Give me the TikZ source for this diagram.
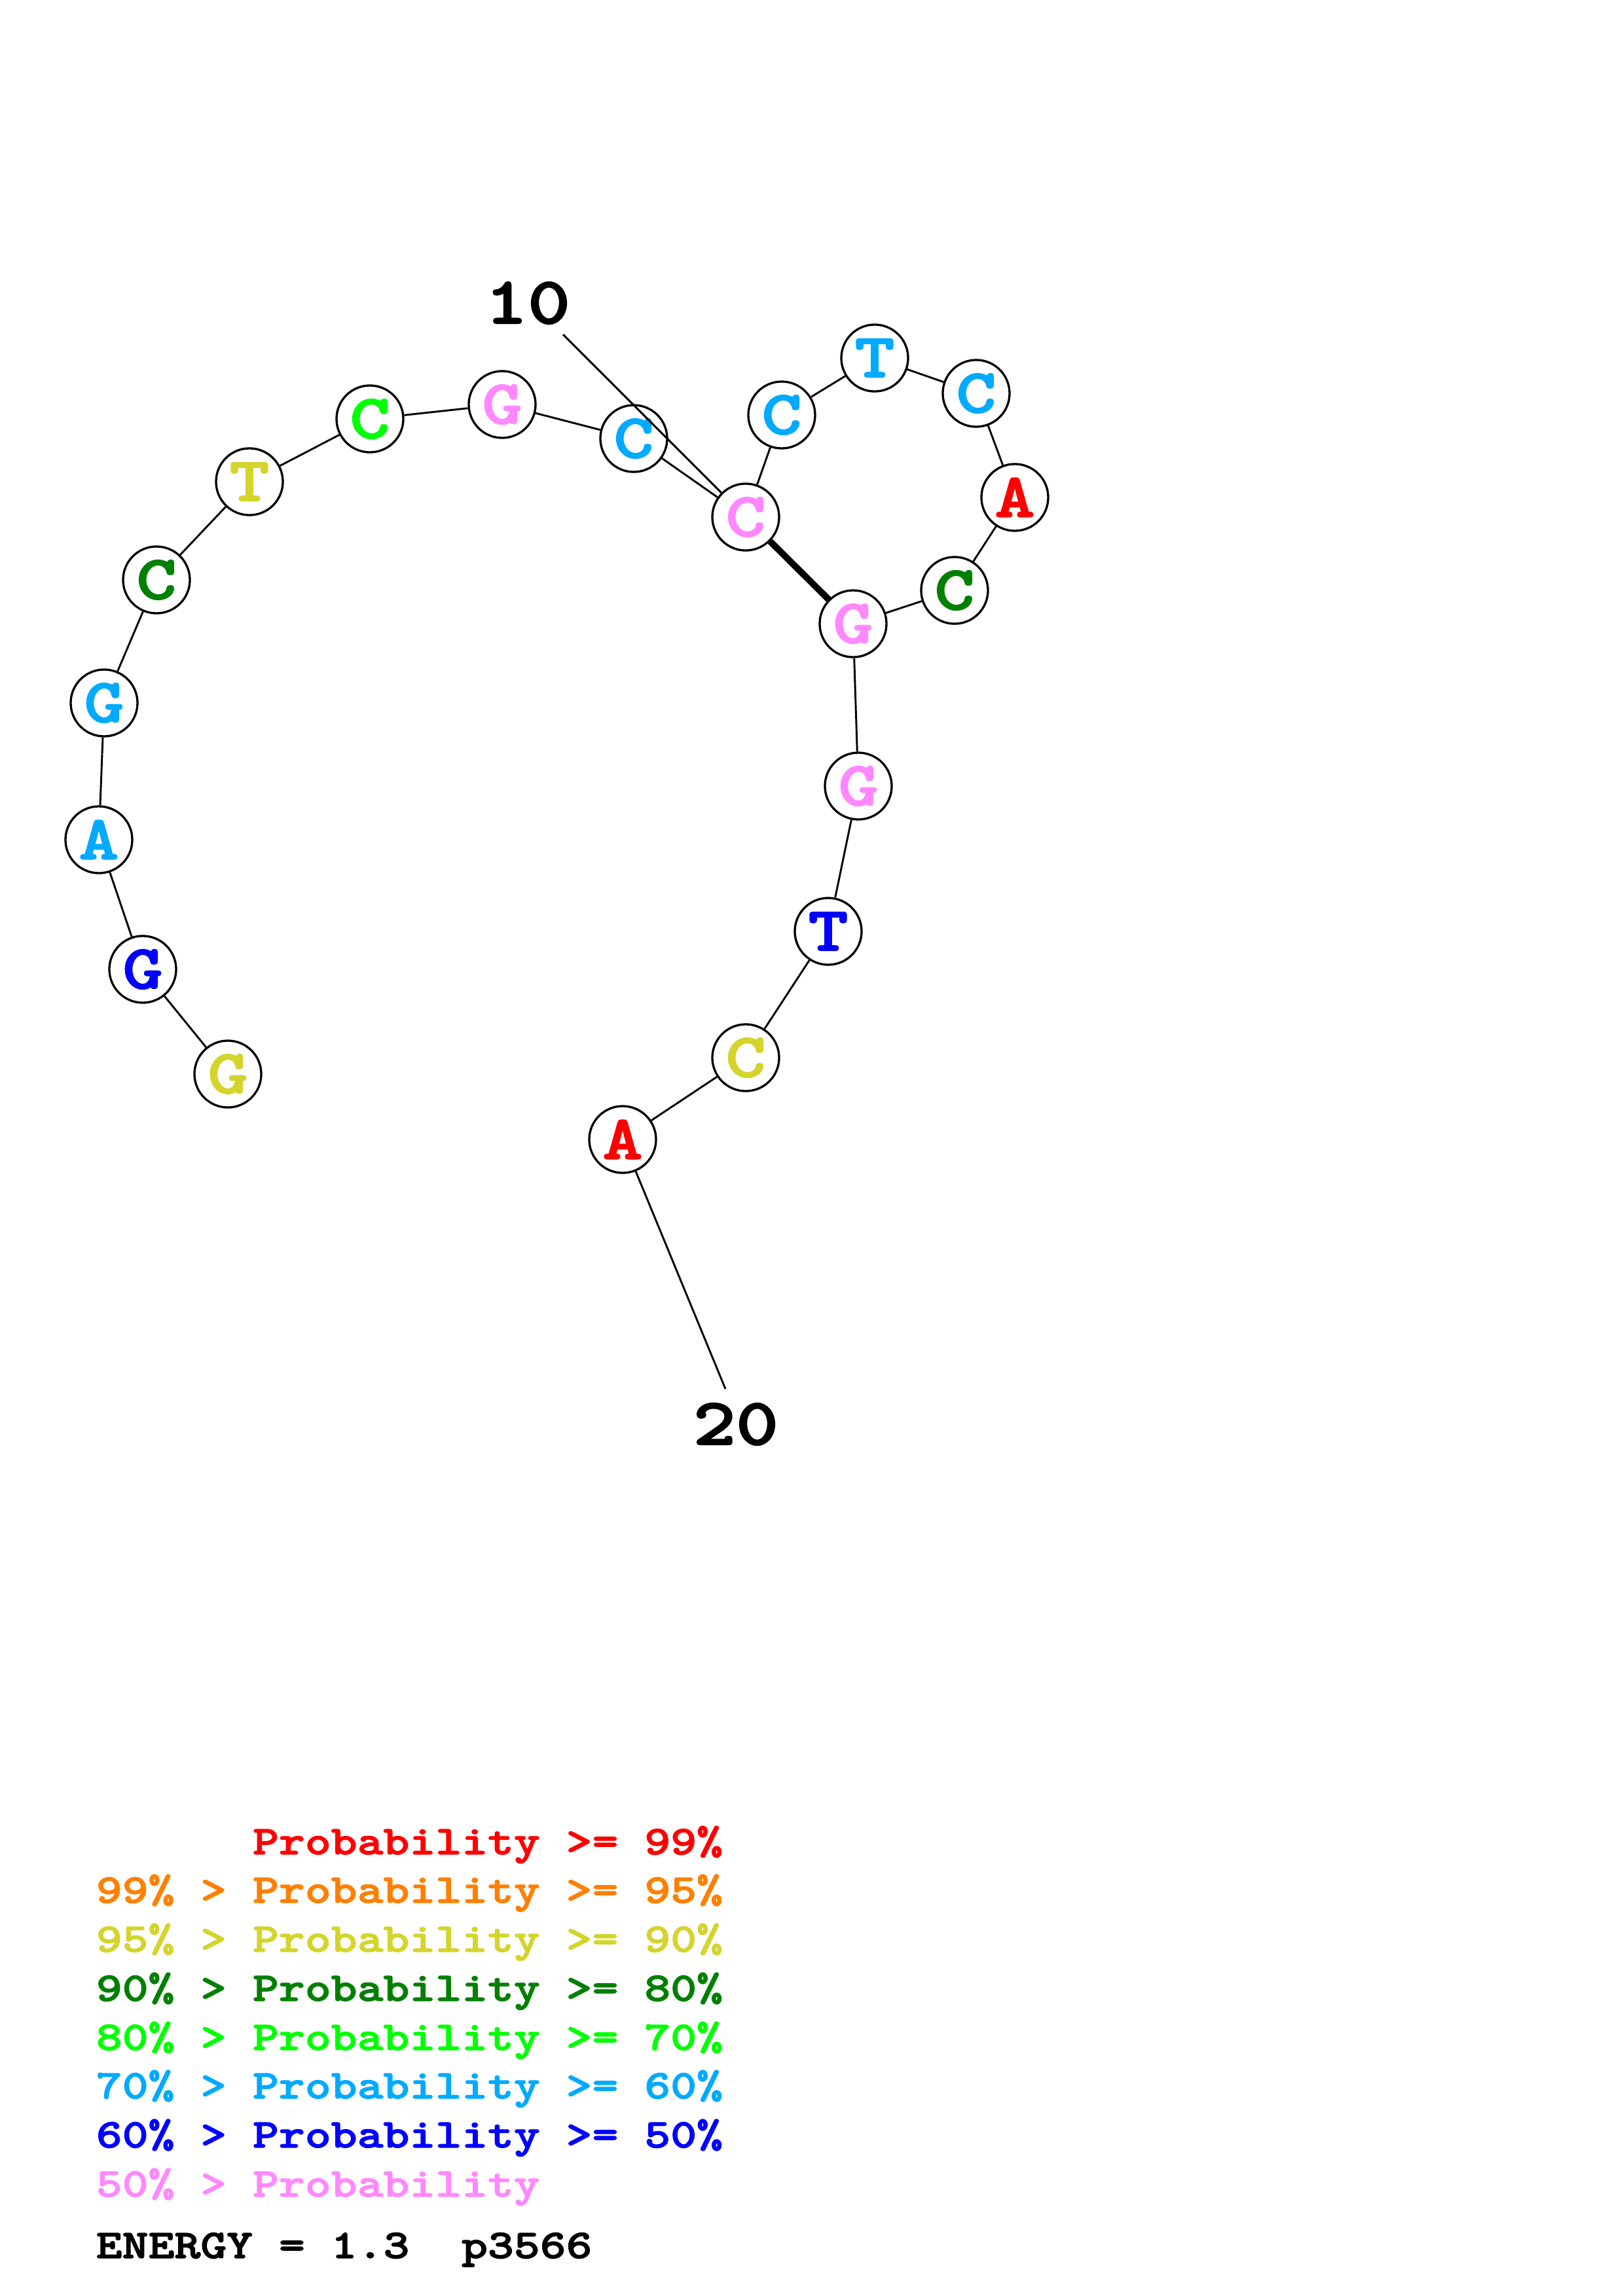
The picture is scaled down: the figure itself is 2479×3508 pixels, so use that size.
\documentclass[tikz,border=0pt]{standalone}
\usepackage{fontspec}
\usepackage{tikz}
\newfontfamily\courbold{lmmonolt10-bold.otf}[FakeStretch=1.22, FakeBold=2]
\definecolor{pr99}{HTML}{FF0000}
\definecolor{pr95}{HTML}{FF8000}
\definecolor{pr90}{HTML}{D4D42C}
\definecolor{pr80}{HTML}{008000}
\definecolor{pr70}{HTML}{00FF00}
\definecolor{pr60}{HTML}{00AAFF}
\definecolor{pr50}{HTML}{0000FF}
\definecolor{prlow}{HTML}{FF88FF}

\begin{document}
\begin{tikzpicture}
[x=0.0846667mm, y=-0.0846667mm,
base/.style={circle, draw, line width=0.8pt, fill=white, minimum size=8.64mm, inner sep=0pt, font=\fontsize{23}{23}\courbold},
ge99/.style={base, text=pr99},
ge90/.style={base, text=pr90},
ge80/.style={base, text=pr80},
ge70/.style={base, text=pr70},
ge60/.style={base, text=pr60},
ge50/.style={base, text=pr50},
lt50/.style={base, text=prlow},
backbone/.style={line width=0.7pt},
pair/.style={line width=2.4pt},
numlabel/.style={inner sep=0pt, font=\fontsize{24.5}{24.5}\courbold},
legend/.style={anchor=base west, inner sep=0pt, font=\fontsize{15}{15}\courbold}]
\useasboundingbox (0,0) rectangle (2479,3508);
\node[ge90] (n1) at (348,1641) {G};
\node[ge50] (n2) at (218,1481) {G};
\node[ge60] (n3) at (151,1283) {A};
\node[ge60] (n4) at (159,1074) {G};
\node[ge80] (n5) at (239,886) {C};
\node[ge90] (n6) at (381,736) {T};
\node[ge70] (n7) at (565,640) {C};
\node[lt50] (n8) at (767,618) {G};
\node[ge60] (n9) at (968,670) {C};
\node[lt50] (n10) at (1139,790) {C};
\node[ge60] (n11) at (1194,634) {C};
\node[ge60] (n12) at (1336,547) {T};
\node[ge60] (n13) at (1491,601) {C};
\node[ge99] (n14) at (1550,760) {A};
\node[ge80] (n15) at (1458,902) {C};
\node[lt50] (n16) at (1303,953) {G};
\node[lt50] (n17) at (1311,1201) {G};
\node[ge50] (n18) at (1265,1423) {T};
\node[ge90] (n19) at (1139,1616) {C};
\node[ge99] (n20) at (951,1741) {A};
\draw[backbone] (n1) -- (n2) -- (n3) -- (n4) -- (n5) -- (n6) -- (n7) -- (n8) -- (n9) -- (n10)
  -- (n11) -- (n12) -- (n13) -- (n14) -- (n15) -- (n16) -- (n17) -- (n18) -- (n19) -- (n20);
\draw[pair] (n10) -- (n16);
\node[numlabel] (lab10) at (806,463) {10};
\node[numlabel] (lab20) at (1124,2176) {20};
\coordinate (tick10) at (860,511);
\coordinate (tick20) at (1108,2122);
\draw[backbone] (tick10) -- (n10);
\draw[backbone] (n20) -- (tick20);
\node[legend, text=pr99] (key99) at (146,2833) {\phantom{99\% >\ }Probability >= 99\%};
\node[legend, text=pr95] (key95) at (146,2907) {99\% > Probability >= 95\%};
\node[legend, text=pr90] (key90) at (146,2982) {95\% > Probability >= 90\%};
\node[legend, text=pr80] (key80) at (146,3057) {90\% > Probability >= 80\%};
\node[legend, text=pr70] (key70) at (146,3132) {80\% > Probability >= 70\%};
\node[legend, text=pr60] (key60) at (146,3206) {70\% > Probability >= 60\%};
\node[legend, text=pr50] (key50) at (146,3281) {60\% > Probability >= 50\%};
\node[legend, text=prlow] (keylow) at (146,3356) {50\% > Probability};
\node[legend] (energy) at (146,3450) {ENERGY = 1.3\ \ p3566};
\end{tikzpicture}
\end{document}
